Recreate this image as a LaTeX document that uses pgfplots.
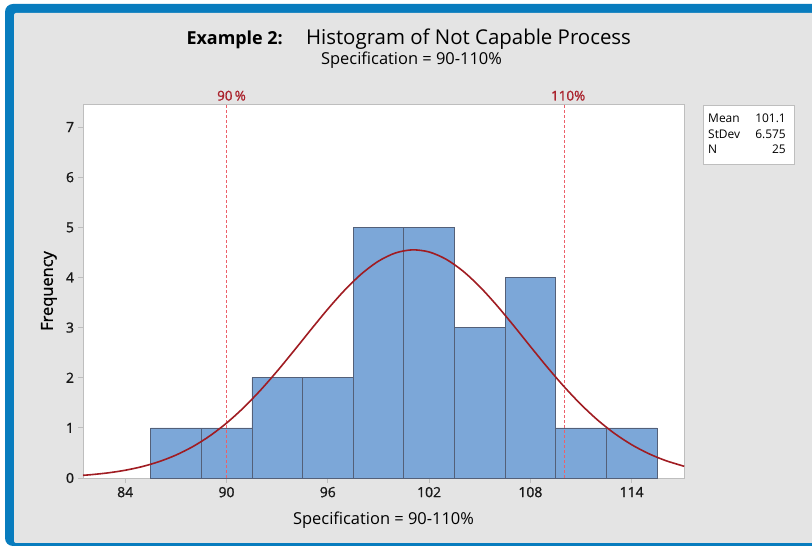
\documentclass[border=0pt]{standalone}
\usepackage{fontspec}
\setmainfont{Open Sans}
\newfontfamily\semib[FakeBold=1.2]{Open Sans}
\usepackage{pgfplots}
\pgfplotsset{compat=1.18}
\definecolor{bg}{RGB}{228,228,228}
\definecolor{frameblue}{RGB}{8,124,190}
\definecolor{barblue}{RGB}{124,167,216}
\definecolor{baredge}{RGB}{84,96,120}
\definecolor{curvered}{RGB}{160,28,34}
\definecolor{specred}{RGB}{236,96,106}
\definecolor{speclabel}{RGB}{170,35,45}
\definecolor{axgray}{RGB}{190,190,190}
\begin{document}
\begin{tikzpicture}[x=1bp,y=1bp]
\useasboundingbox (0bp,0bp) rectangle (812bp,546bp);
\fill[white] (0bp,0bp) rectangle (812bp,546bp);
\fill[frameblue, rounded corners=8bp] (5bp,0bp) rectangle (830bp,542bp);
\fill[bg, rounded corners=2bp] (14bp,3bp) rectangle (830bp,533bp);
% titles
\node[anchor=base east, inner sep=0, font=\fontsize{18}{18}\selectfont\bfseries] at (283bp,501.5bp) {Example 2:};
\node[anchor=base, inner sep=0, font=\fontsize{20.5}{20.5}\selectfont] at (468.5bp,501.5bp) {Histogram of Not Capable Process};
\node[anchor=base, inner sep=0, font=\fontsize{16.5}{16.5}\selectfont] at (411.5bp,481bp) {Specification = 90-110\%};
\begin{axis}[
  at={(83bp,68bp)}, anchor=south west, scale only axis,
  width=601bp, height=374bp,
  xmin=81.5, xmax=117.1, ymin=0, ymax=7.46,
  axis background/.style={fill=white},
  axis line style={axgray},
  xtick={84,90,96,102,108,114}, ytick={0,1,2,3,4,5,6,7},
  tick pos=left, tick align=outside, major tick length=4.5bp,
  tick style={axgray, line width=0.8bp},
  /pgf/number format/assume math mode=true,
  ticklabel style={font=\semib\fontsize{14}{14}\selectfont, text=black!90},
  xticklabel style={yshift=-1bp},
  yticklabel style={xshift=-1bp},
  xlabel={Specification = 90-110\%},
  xlabel style={at={(axis description cs:0.5,-0.123)}, anchor=base, font=\fontsize{16.5}{16.5}\selectfont},
  ylabel={Frequency},
  ylabel style={at={(axis description cs:-0.0567,0.5)}, anchor=center, font=\semib\fontsize{16.5}{16.5}\selectfont},
  clip=false,
]
\addplot[ybar interval, fill=barblue, draw=baredge, line width=0.6bp] coordinates {
(85.5,1) (88.5,1) (91.5,2) (94.5,2) (97.5,5) (100.5,5) (103.5,3) (106.5,4) (109.5,1) (112.5,1) (115.5,1)};
\addplot[draw=specred, color=specred, line width=1.1bp, dash pattern=on 3bp off 2bp] coordinates {(90,0) (90,7.46)};
\addplot[draw=specred, color=specred, line width=1.1bp, dash pattern=on 3bp off 2bp] coordinates {(110,0) (110,7.46)};
\addplot[curvered, line width=1.6bp, smooth] coordinates {
(81.5,0.0535) (82,0.0669) (83,0.1029) (84,0.1547) (85,0.2270) (86,0.3257) (87,0.4565) (88,0.6253) (89,0.8371) (90,1.0946) (91,1.3987) (92,1.7463) (93,2.1309) (94,2.5404) (95,2.9591) (96,3.3687) (97,3.7468) (98,4.0723) (99,4.3248) (100,4.4878) (101,4.5505) (102,4.5087) (103,4.3649) (104,4.1292) (105,3.8169) (106,3.4474) (107,3.0428) (108,2.6237) (109,2.2113) (110,1.8209) (111,1.4650) (112,1.1514) (113,0.8847) (114,0.6640) (115,0.4870) (116,0.3491) (117,0.2445) (117.1,0.2350)};
\node[anchor=base, inner sep=0, xshift=5bp, yshift=3.5bp, text=speclabel, font=\semib\fontsize{13.5}{13.5}\selectfont] at (axis cs:90,7.46) {90\,\%};
\node[anchor=base, inner sep=0, xshift=4bp, yshift=3.5bp, text=speclabel, font=\semib\fontsize{13.5}{13.5}\selectfont] at (axis cs:110,7.46) {110\%};
\end{axis}
% stats box
\draw[axgray, fill=white, line width=0.8bp] (703bp,382bp) rectangle (794bp,441bp);
\begin{scope}[every node/.style={inner sep=0, font=\fontsize{12}{12}\selectfont}]
\node[anchor=base west] at (708bp,423bp) {Mean};
\node[anchor=base east] at (786bp,423bp) {101.1};
\node[anchor=base west] at (708bp,407.5bp) {StDev};
\node[anchor=base east] at (786bp,407.5bp) {6.575};
\node[anchor=base west] at (708bp,392bp) {N};
\node[anchor=base east] at (786bp,392bp) {25};
\end{scope}
\end{tikzpicture}
\end{document}
